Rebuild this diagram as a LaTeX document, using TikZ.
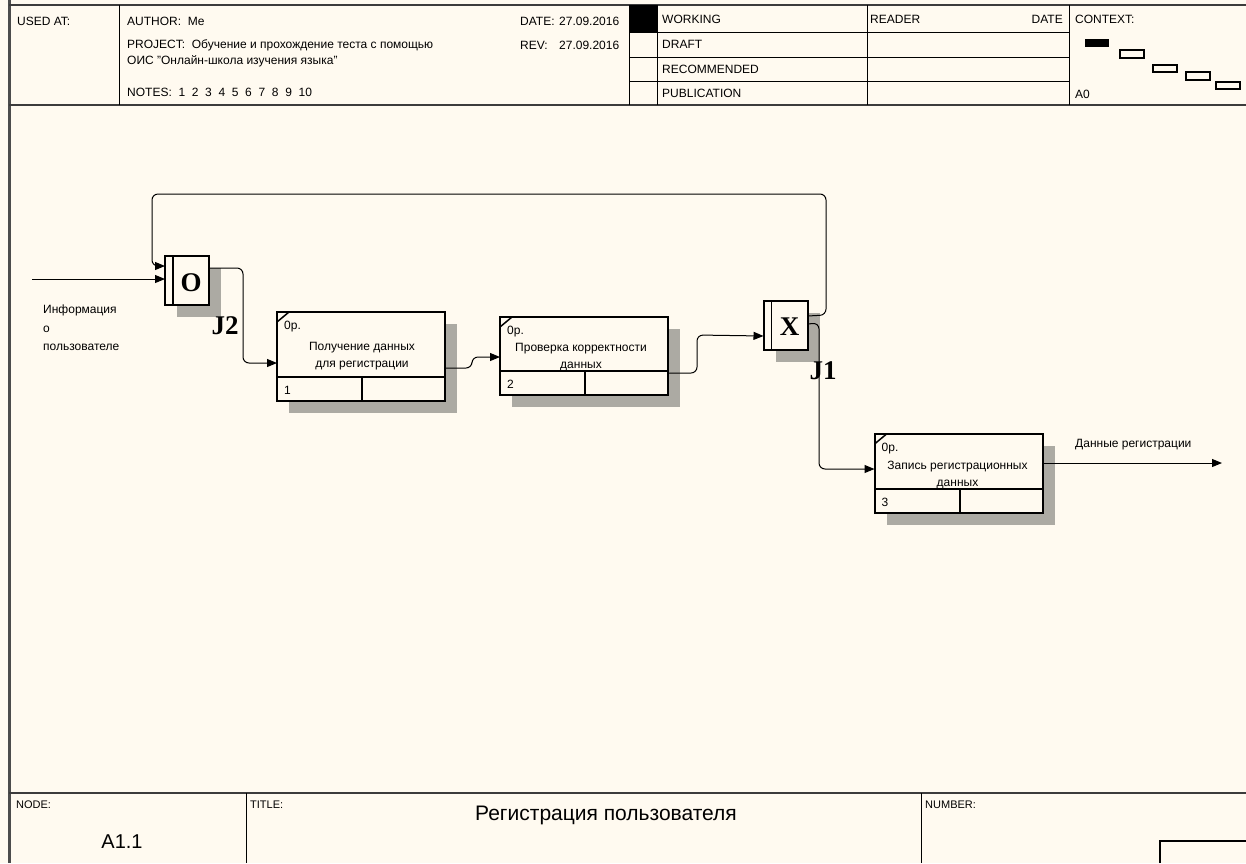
\documentclass[tikz,border=0pt]{standalone}
\usepackage{fontspec}
\setmainfont{Liberation Sans}
\newfontfamily\jfont{Liberation Serif}
\usetikzlibrary{arrows.meta,calc,shadows}

\definecolor{bgcream}{RGB}{255,250,240}
\definecolor{framegray}{RGB}{60,60,60}
\definecolor{shadegray}{RGB}{172,170,163}

\begin{document}
\begin{tikzpicture}[x=1pt, y=-1pt,
        actbox/.style={draw, line width=2pt, fill=bgcream, minimum width=168pt, inner sep=0pt, outer sep=0pt,
            drop shadow={shadow xshift=12pt, shadow yshift=-12pt, fill=shadegray, opacity=1}},
        jbox/.style={draw, line width=2pt, fill=bgcream, minimum width=44pt, minimum height=49pt,
            inner sep=0pt, outer sep=0pt,
            drop shadow={shadow xshift=12pt, shadow yshift=-12pt, fill=shadegray, opacity=1}},
        flow/.style={line width=1pt, rounded corners=6pt, -{Triangle[length=10pt,width=8pt]}},
        lbl/.style={font=\fontsize{12}{17}\selectfont, inner sep=0pt},
        hdr/.style={font=\fontsize{12}{14}\selectfont, inner sep=0pt, anchor=west},
        jlbl/.style={font=\jfont\bfseries\fontsize{27}{27}\selectfont, inner sep=0pt},
        thinline/.style={line width=1pt}]
    % paper
    \fill[bgcream] (0,0) rectangle (1246,863);
    \useasboundingbox (0,0) rectangle (1246,863);
    % frame
    \draw[line width=3pt, gray!60!black] (9,0) -- (9,863);
    \foreach \y in {5,105,793}
        \draw[line width=2pt, framegray] (9,\y) -- (1246,\y);
    % header grid
    \foreach \x in {119,629,657,867,1069}
        \draw[thinline] (\x,5) -- (\x,105);
    \foreach \y in {32,57,81}
        \draw[thinline] (629,\y) -- (1069,\y);
    \fill (629,5) rectangle (657,32);
    % header texts
    \node[hdr] (usedat) at (17,21) {USED AT:};
    \node[hdr] (author) at (127,21) {AUTHOR:\ \ Me};
    \node[hdr] (project) at (127,45) {PROJECT:\ \ Обучение и прохождение теста с помощью};
    \node[hdr] (project2) at (127,61) {ОИС "Онлайн-школа изучения языка"};
    \node[hdr] (notes) at (127,92) {NOTES:\ \ 1\ \ 2\ \ 3\ \ 4\ \ 5\ \ 6\ \ 7\ \ 8\ \ 9\ \ 10};
    \node[hdr] (date) at (520,21) {DATE:};
    \node[hdr] (dateval) at (559,21) {27.09.2016};
    \node[hdr] (rev) at (520,45) {REV:};
    \node[hdr] (revval) at (559,45) {27.09.2016};
    \node[hdr] (working) at (662,19) {WORKING};
    \node[hdr] (draft) at (662,44) {DRAFT};
    \node[hdr] (recommended) at (662,69) {RECOMMENDED};
    \node[hdr] (publication) at (662,93) {PUBLICATION};
    \node[hdr] (reader) at (870,19) {READER};
    \node[hdr, anchor=east] (rdate) at (1063,19) {DATE};
    \node[hdr] (context) at (1075,19) {CONTEXT:};
    \node[hdr] (ctxnode) at (1075,94) {A0};
    % context marks
    \fill (1085,39) rectangle (1109,47);
    \foreach \x/\y/\h in {1120/50/8, 1153/65/7, 1186/72/8, 1216/82/7}
        \draw[line width=1.3pt] (\x,\y) rectangle ++(24,\h);

    % activity boxes
    \node[actbox, minimum height=89pt] (a1) at (361,356.5) {};
    \node[actbox, minimum height=78pt] (a2) at (584,356) {};
    \node[actbox, minimum height=79pt] (a3) at (958.5,473.5) {};
    \foreach \b/\n in {a1/1, a2/2, a3/3} {
        \draw[line width=2pt] ($(\b.south west)+(0,-24)$) -- ($(\b.south east)+(0,-24)$);
        \draw[line width=2pt] ($(\b.south west)+(85,0)$) -- ($(\b.south west)+(85,-24)$);
        \draw[line width=1.5pt] ($(\b.north west)+(0,10)$) -- ($(\b.north west)+(12,0)$);
        \node[lbl, anchor=west] (\b op) at ($(\b.north west)+(7,15)$) {0р.};
        \node[lbl, anchor=west] (\b num) at ($(\b.south west)+(7,-11)$) {\n};
    }
    \node[lbl, align=center] (a1t) at ($(a1.north)+(1,44)$) {Получение данных\\ для регистрации};
    \node[lbl, align=center] (a2t) at ($(a2.north)+(-3,40)$) {Проверка корректности\\ данных};
    \node[lbl, align=center] (a3t) at ($(a3.north)+(-1,41)$) {Запись регистрационных\\ данных};

    % junctions
    \node[jbox] (j2) at (187,280.5) {};
    \node[jbox] (j1) at (785.5,325.5) {};
    \foreach \j in {j1,j2}
        \draw[line width=1.5pt] ($(\j.north west)+(8,0)$) -- ($(\j.south west)+(8,0)$);
    \node[jlbl] (j2sym) at ($(j2.center)+(4,2)$) {O};
    \node[jlbl] (j1sym) at ($(j1.center)+(4,1)$) {X};
    \node[jlbl] (j2name) at (225,326) {J2};
    \node[jlbl] (j1name) at (823,371) {J1};

    % arrows
    \coordinate (inL) at (32,279);
    \coordinate (outR) at (1222,463);
    \draw[flow] (inL) -- ($(j2.north west)+(0,23)$);
    \draw[flow] ($(j1.north east)+(0,15)$) -- (826,315) -- (826,194) -- (152,194) -- (152,266)
        -- ($(j2.north west)+(0,10)$);
    \draw[flow] ($(j2.north east)+(0,12)$) -- (243,268) -- (243,363) -- ($(a1.north west)+(0,51)$);
    \draw[flow] ($(a1.north east)+(0,56)$) -- (472,368) -- (472,357) -- ($(a2.north west)+(0,40)$);
    \draw[flow] ($(a2.north east)+(0,56)$) -- (697,373) -- (697,335) -- ($(j1.north west)+(0,35)$);
    \draw[flow] ($(j1.north east)+(0,23)$) -- (819,323) -- (819,469) -- ($(a3.north west)+(0,35)$);
    \draw[flow] ($(a3.north east)+(0,29)$) -- (outR);
    \node[lbl, align=left, anchor=north west, font=\fontsize{12}{18.5}\selectfont] (inlbl) at (43,305)
        {Информация\\о\\пользователе};
    \node[lbl, anchor=west] (outlbl) at (1075,445) {Данные регистрации};

    % bottom block
    \foreach \x in {246,921}
        \draw[thinline] (\x,793) -- (\x,863);
    \draw[line width=1.3pt] (1160,863) -- (1160,841) -- (1246,841);
    \node[hdr, font=\fontsize{11}{13}\selectfont] (nodelbl) at (16,805) {NODE:};
    \node[hdr, font=\fontsize{11}{13}\selectfont] (titlelbl) at (250,805) {TITLE:};
    \node[hdr, font=\fontsize{11}{13}\selectfont] (numlbl) at (925,805) {NUMBER:};
    \node[inner sep=0pt, font=\fontsize{20}{24}\selectfont] (nodeid) at (122,842) {A1.1};
    \node[inner sep=0pt, font=\fontsize{21}{25}\selectfont] (title) at (606,815) {Регистрация пользователя};
\end{tikzpicture}
\end{document}
